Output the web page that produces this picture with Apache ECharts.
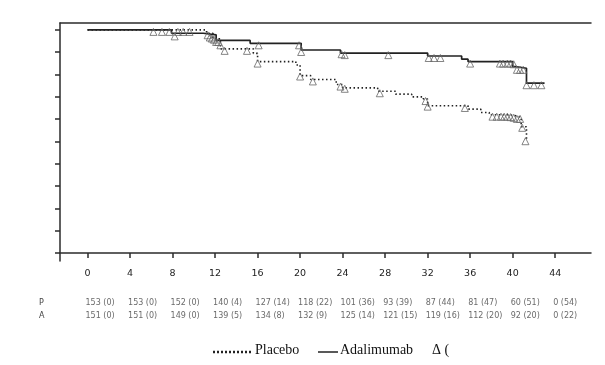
<!DOCTYPE html>
<html><head><meta charset="utf-8">
<script src="https://cdn.jsdelivr.net/npm/echarts@6/dist/echarts.min.js"></script>
<style>html,body{margin:0;padding:0;background:#fff}#c{width:605px;height:365px}</style>
</head><body><div id="c"></div>
<script>
// ---- data ----
const xTicks = [0,4,8,12,16,20,24,28,32,36,40,44];
const yTicks = [0,0.1,0.2,0.3,0.4,0.5,0.6,0.7,0.8,0.9,1.0];
// Kaplan-Meier step points [week, survival]
const placeboTimes = [0,6.2,11.2,11.8,12.5,15.6,16.0,19.6,20.0,21.0,23.4,24.0,27.3,29.0,30.5,31.6,32.0,35.8,37.0,37.8,39.5,40.3,40.8,41.3];
const placeboSurv  = [1.0,1.0,0.985,0.96,0.915,0.895,0.858,0.843,0.795,0.778,0.755,0.74,0.725,0.712,0.70,0.69,0.66,0.645,0.63,0.62,0.615,0.608,0.566,0.507];
const adaTimes = [0,7.9,10.9,12.1,15.3,20.1,23.8,32.0,35.2,35.8,40.0,40.4,41.3,43.0];
const adaSurv  = [1.0,0.985,0.978,0.953,0.940,0.910,0.896,0.883,0.869,0.858,0.835,0.828,0.761,0.761];
// censored observations
const placeboCensT = [6.2,7.0,7.7,8.5,9.0,9.6,11.3,11.7,12.1,12.5,12.9,15.0,16.0,20.0,21.2,23.8,24.2,27.5,31.8,32.0,35.5,38.1,38.5,38.9,39.2,39.5,39.8,40.1,40.4,40.7,40.9,41.2];
const placeboCensS = [1,1,1,1,1,1,0.985,0.97,0.955,0.94,0.915,0.915,0.858,0.80,0.778,0.755,0.745,0.725,0.69,0.665,0.659,0.62,0.62,0.62,0.62,0.62,0.618,0.615,0.61,0.61,0.57,0.51];
const adaCensT = [8.2,11.5,11.9,12.3,16.1,19.9,20.1,23.9,24.2,28.3,32.1,32.6,33.2,36.0,38.8,39.1,39.5,39.8,40.1,40.4,40.7,41.0,41.3,42.0,42.7];
const adaCensS = [0.98,0.975,0.965,0.955,0.94,0.94,0.91,0.90,0.896,0.896,0.883,0.883,0.883,0.858,0.858,0.858,0.858,0.858,0.855,0.83,0.83,0.83,0.761,0.761,0.761];
// number at risk (events)
const riskWeeks = [0,4,8,12,16,20,24,28,32,36,40,44];
const placeboAtRisk = [153,153,152,140,127,118,101,93,87,81,60,0];
const placeboEvents = [0,0,0,4,14,22,36,39,44,47,51,54];
const adaAtRisk = [151,151,149,139,134,132,125,121,119,112,92,0];
const adaEvents = [0,0,0,5,8,9,14,15,16,20,20,22];
const rowLabels = ['P','A'];
const legendNames = ['Placebo','Adalimumab','Δ Censored'];

// ---- build ----
const pair = (a,b) => a.map((v,i)=>[v,b[i]]);
const XMIN = -2.59, XMAX = 47.37;
const riskData = [];
riskWeeks.forEach((w,i)=>{
  riskData.push({value:[w,'P'], txt: placeboAtRisk[i]+' ('+placeboEvents[i]+')'});
  riskData.push({value:[w,'A'], txt: adaAtRisk[i]+' ('+adaEvents[i]+')'});
});
const axisCol = '#2b2b2b';
const tri = { color:'rgba(255,255,255,0)', borderColor:'#666', borderWidth:1 };

const chart = echarts.init(document.getElementById('c'), null, {renderer:'canvas'});
chart.setOption({
  animation:false,
  backgroundColor:'#fff',
  grid:[
    {left:60, right:14, top:23, bottom:104},
    {left:60, right:14, top:296, height:26}
  ],
  xAxis:[
    {gridIndex:0, type:'value', min:XMIN, max:XMAX, position:'bottom',
     axisLine:{show:true, lineStyle:{color:axisCol, width:1.5}},
     axisTick:{show:true, length:5, customValues:xTicks, lineStyle:{color:axisCol, width:1.5}},
     axisLabel:{show:true, customValues:xTicks, margin:8, color:'#222', fontFamily:'DejaVu Sans', fontSize:9.5},
     splitLine:{show:false}},
    {gridIndex:0, type:'value', min:XMIN, max:XMAX, position:'top',
     axisLine:{show:true, onZero:false, lineStyle:{color:axisCol, width:1.5}},
     axisTick:{show:false}, axisLabel:{show:false}, splitLine:{show:false}},
    {gridIndex:1, type:'value', min:XMIN, max:XMAX, show:false}
  ],
  yAxis:[
    {gridIndex:0, type:'value', min:-0.036, max:1.031,
     axisLine:{show:true, onZero:false, lineStyle:{color:axisCol, width:1.5}},
     axisTick:{show:true, length:5, customValues:yTicks, lineStyle:{color:axisCol, width:1.5}},
     axisLabel:{show:false}, splitLine:{show:false}},
    {gridIndex:1, type:'category', data:rowLabels, inverse:true,
     axisLine:{show:false}, axisTick:{show:false},
     axisLabel:{show:true, margin:21, align:'left', color:'#444', fontFamily:'DejaVu Sans', fontSize:8}}
  ],
  series:[
    {name:legendNames[0], type:'line', step:'end', xAxisIndex:0, yAxisIndex:0,
     data:pair(placeboTimes,placeboSurv), showSymbol:false,
     lineStyle:{color:'#222', width:1.6, type:[1.5,2.5]}},
    {name:legendNames[1], type:'line', step:'end', xAxisIndex:0, yAxisIndex:0,
     data:pair(adaTimes,adaSurv), showSymbol:false,
     lineStyle:{color:'#222', width:1.7}},
    {type:'scatter', xAxisIndex:0, yAxisIndex:0, data:pair(placeboCensT,placeboCensS),
     symbol:'triangle', symbolSize:[7,7], symbolOffset:[0,2], itemStyle:tri, z:5},
    {type:'scatter', xAxisIndex:0, yAxisIndex:0, data:pair(adaCensT,adaCensS),
     symbol:'triangle', symbolSize:[7,7], symbolOffset:[0,2], itemStyle:tri, z:5},
    {type:'scatter', xAxisIndex:2, yAxisIndex:1, data:riskData, symbolSize:0,
     label:{show:true, position:'right', distance:0, offset:[-2,0], color:'#444',
       fontFamily:'DejaVu Sans', fontSize:8, formatter:p=>p.data.txt}}
  ],
  graphic:[
    {type:'line', shape:{x1:213,y1:352,x2:252,y2:352}, style:{stroke:'#222', lineWidth:2.5, lineDash:[2,2]}},
    {type:'text', left:255, top:343, style:{text:legendNames[0], font:'14px "Liberation Serif"', fill:'#111'}},
    {type:'line', shape:{x1:318,y1:352,x2:338,y2:352}, style:{stroke:'#222', lineWidth:1.5}},
    {type:'text', left:340, top:343, style:{text:legendNames[1], font:'14px "Liberation Serif"', fill:'#111'}},
    {type:'text', left:432, top:343, style:{text:'Δ (', font:'14px "Liberation Serif"', fill:'#111'}}
  ]
});
</script></body></html>
